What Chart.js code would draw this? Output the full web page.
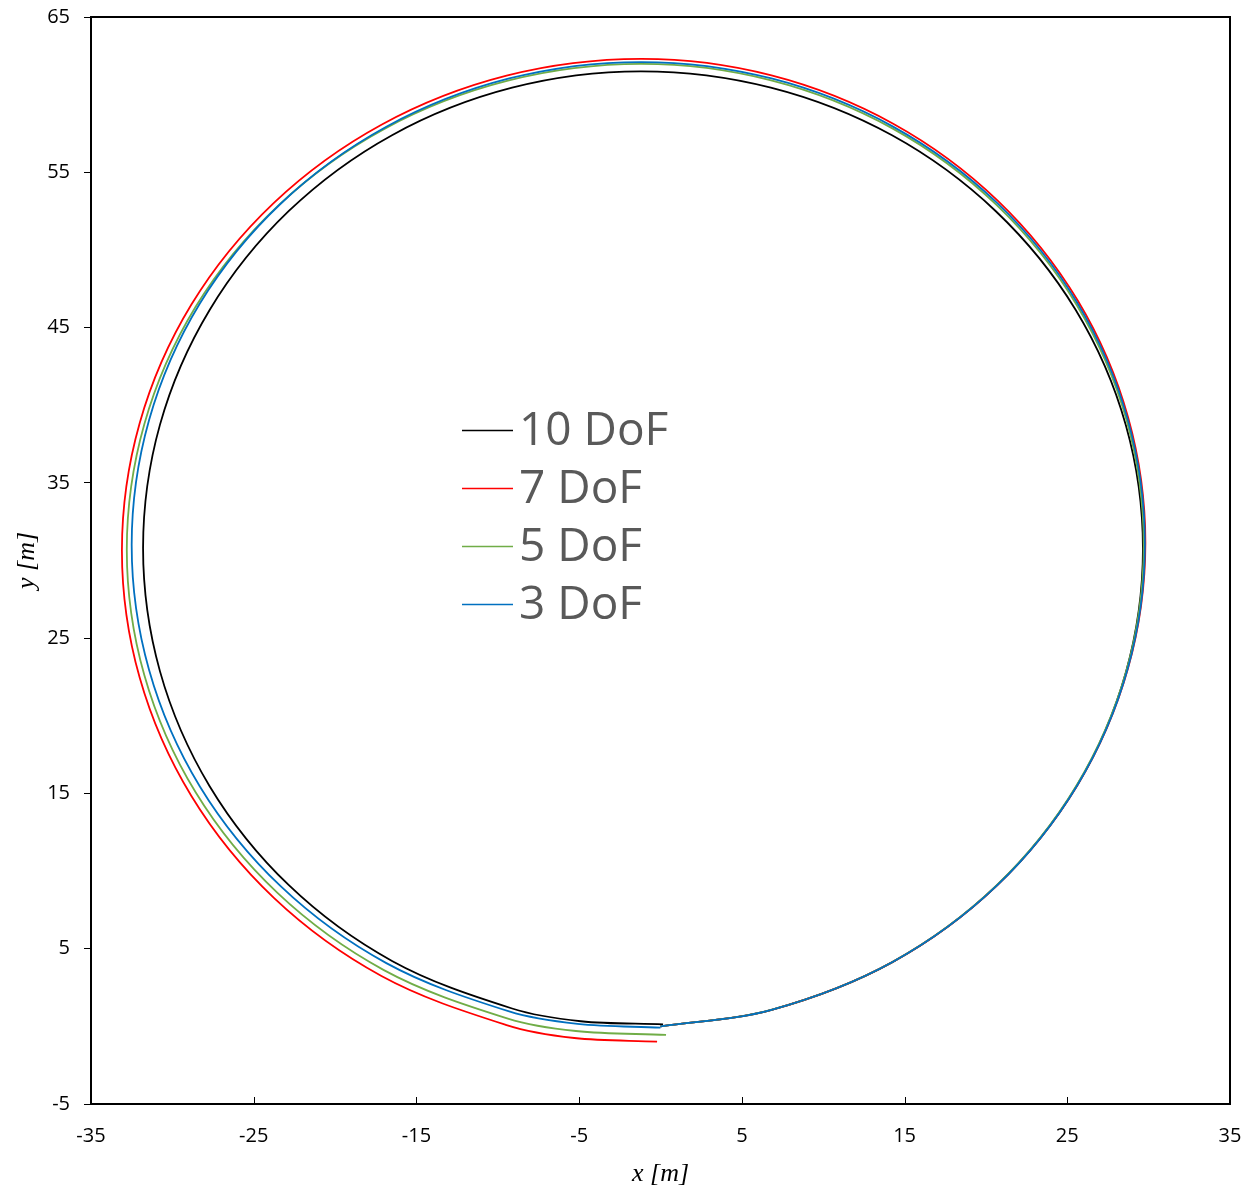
<!DOCTYPE html>
<html>
<head>
<meta charset="utf-8">
<script src="https://cdn.jsdelivr.net/npm/chart.js@4/dist/chart.umd.min.js"></script>
<style>
  html, body { margin: 0; padding: 0; background: #ffffff; }
  canvas { display: block; }
</style>
</head>
<body>
<canvas id="traj" width="1245" height="1190"></canvas>
<script>
// Vehicle trajectories in the x-y plane for the four model orders.
const seriesNames  = ['10 DoF', '7 DoF', '5 DoF', '3 DoF'];
const seriesColors = ['#000000', '#ff0000', '#70ad47', '#0070c0'];

// 10 DoF
const x10 = [0, 6.78, 14.23, 20.61, 25.52, 28.60, 29.65, 28.60, 25.52, 20.61, 14.23, 6.78, -1.2,
             -9.12, -16.5, -22.84, -27.70, -30.76, -31.8, -30.76, -27.70, -22.84, -16.5, -9.12, -4.9, 0.16];
const y10 = [0, 1.05, 4.12, 9.01, 15.38, 22.79, 30.75, 38.71, 46.13, 52.49, 57.38, 60.45, 61.5,
             60.45, 57.39, 52.51, 46.15, 38.75, 30.8, 22.86, 15.45, 9.09, 4.21, 1.15, 0.33, 0.13];

// 7 DoF
const x7 = [0, 6.82, 14.30, 20.72, 25.65, 28.74, 29.80, 28.74, 25.65, 20.72, 14.30, 6.82, -1.2,
            -9.46, -17.15, -23.76, -28.83, -32.01, -33.1, -32.01, -28.83, -23.76, -17.15, -9.46, -5.3, -0.21];
const y7 = [0, 1.06, 4.17, 9.12, 15.58, 23.09, 31.15, 39.21, 46.73, 53.18, 58.13, 61.24, 62.3,
            61.22, 58.06, 53.03, 46.48, 38.84, 30.65, 22.46, 14.83, 8.27, 3.24, 0.08, -0.75, -0.98];

// 5 DoF
const x5 = [0, 6.80, 14.25, 20.65, 25.56, 28.65, 29.70, 28.65, 25.56, 20.65, 14.25, 6.80, -1.2,
            -9.38, -17.0, -23.54, -28.57, -31.72, -32.8, -31.72, -28.57, -23.54, -17.0, -9.38, -5.2, 0.34];
const y5 = [0, 1.06, 4.15, 9.08, 15.50, 22.97, 30.99, 39.01, 46.49, 52.90, 57.83, 60.92, 61.98,
            60.90, 57.78, 52.81, 46.34, 38.79, 30.7, 22.61, 15.07, 8.59, 3.62, 0.50, -0.30, -0.55];

// 3 DoF
const x3 = [0, 6.82, 14.29, 20.70, 25.62, 28.71, 29.77, 28.71, 25.62, 20.70, 14.29, 6.82, -1.2,
            -9.30, -16.85, -23.33, -28.31, -31.43, -32.5, -31.43, -28.31, -23.33, -16.85, -9.30, -5.1, 0];
const y3 = [0, 1.06, 4.16, 9.09, 15.53, 23.01, 31.05, 39.09, 46.58, 53.01, 57.94, 61.04, 62.1,
            61.04, 57.93, 52.99, 46.55, 39.05, 31.0, 22.95, 15.45, 9.01, 4.07, 0.96, 0.16, -0.08];

const seriesX = [x10, x7, x5, x3];
const seriesY = [y10, y7, y5, y3];

const xMin = -35, xMax = 35, xStep = 10;
const yMin = -5,  yMax = 65, yStep = 10;

const toPoints = (xs, ys) => xs.map((x, i) => ({ x: x, y: ys[i] }));

const datasets = seriesNames.map((name, i) => ({
  label: name,
  data: toPoints(seriesX[i], seriesY[i]),
  borderColor: seriesColors[i],
  backgroundColor: seriesColors[i],
  borderWidth: 1.8,
  pointRadius: 0,
  pointHoverRadius: 0,
  tension: 0.34,
  cubicInterpolationMode: 'default',
  fill: false,
  order: seriesNames.length - 1 - i   // later series sit on top
}));

// Plot frame and inward tick marks along the x axis
const framePlugin = {
  id: 'framePlugin',
  afterDraw(chart) {
    const { ctx, chartArea: a, scales } = chart;
    ctx.save();
    ctx.strokeStyle = '#000000';
    ctx.lineWidth = 1;
    scales.x.ticks.forEach(t => {
      const px = Math.round(scales.x.getPixelForValue(t.value)) + 0.5;
      ctx.beginPath();
      ctx.moveTo(px, a.bottom);
      ctx.lineTo(px, a.bottom - 7);
      ctx.stroke();
    });
    ctx.lineWidth = 2;
    ctx.strokeRect(a.left, a.top, a.right - a.left, a.bottom - a.top);
    ctx.restore();
  }
};

// Legend drawn inside the plot area
const insetLegend = {
  id: 'insetLegend',
  afterDatasetsDraw(chart, args, opts) {
    const { ctx, chartArea: a } = chart;
    const x0 = a.left + opts.offsetX;
    const y0 = a.top + opts.offsetY;
    ctx.save();
    chart.data.datasets.forEach((ds, i) => {
      const y = y0 + i * opts.rowGap;
      ctx.strokeStyle = ds.borderColor;
      ctx.lineWidth = 1.5;
      ctx.beginPath();
      ctx.moveTo(x0, y + 0.5);
      ctx.lineTo(x0 + opts.lineLen, y + 0.5);
      ctx.stroke();
      ctx.fillStyle = opts.color;
      ctx.font = opts.font;
      ctx.textBaseline = 'middle';
      ctx.textAlign = 'left';
      ctx.fillText(ds.label, x0 + opts.lineLen + 6, y + 2);
    });
    ctx.restore();
  }
};

const tickFont = { family: '"Open Sans", "Liberation Sans", sans-serif', size: 20 };
const titleFont = { family: '"Liberation Serif", "DejaVu Serif", serif', size: 26, style: 'italic' };

new Chart(document.getElementById('traj'), {
  type: 'line',
  data: { datasets: datasets },
  options: {
    responsive: false,
    animation: false,
    events: [],
    layout: { padding: { top: 17, right: 15, left: 0, bottom: 0 } },
    elements: { line: { tension: 0.34, capBezierPoints: false } },
    plugins: {
      legend: { display: false },
      tooltip: { enabled: false },
      insetLegend: {
        offsetX: 371,
        offsetY: 413,
        rowGap: 58,
        lineLen: 51,
        color: '#595959',
        font: '46px "Open Sans", "Liberation Sans", sans-serif'
      }
    },
    scales: {
      x: {
        type: 'linear',
        min: xMin, max: xMax,
        afterFit(scale) {
          scale.height = 86;
          scale.paddingLeft = 0;
          scale.paddingRight = 0;
        },
        ticks: { stepSize: xStep, color: '#000000', font: tickFont, padding: 20, maxRotation: 0 },
        grid: { display: false, drawTicks: false },
        border: { display: true, color: '#000000', width: 2 },
        title: { display: true, text: 'x [m]', color: '#000000', font: titleFont, padding: { top: 4, bottom: 0 } }
      },
      y: {
        type: 'linear',
        min: yMin, max: yMax,
        afterFit(scale) {
          scale.width = 91;
          scale.paddingTop = 0;
          scale.paddingBottom = 0;
        },
        ticks: { stepSize: yStep, color: '#000000', font: tickFont, padding: 14 },
        grid: { display: true, drawOnChartArea: false, drawTicks: true, tickLength: 7, color: '#000000', lineWidth: 1 },
        border: { display: true, color: '#000000', width: 2 },
        title: { display: true, text: 'y [m]', color: '#000000', font: titleFont, padding: { top: 12, bottom: 0 } }
      }
    }
  },
  plugins: [framePlugin, insetLegend]
});
</script>
</body>
</html>
